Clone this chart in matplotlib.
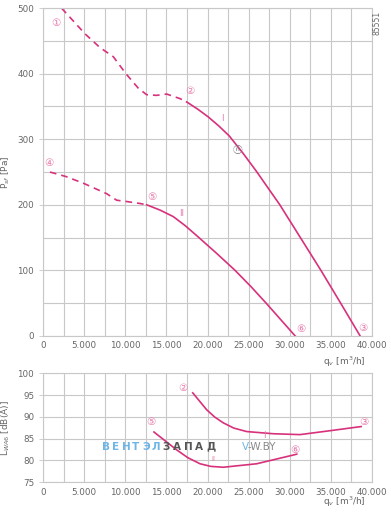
import numpy as np
import matplotlib.pyplot as plt

# pressure curves (top)
q_I_dash = [2240, 5080, 6900, 8530, 10070, 11570, 12590, 13800, 15030, 16650, 17460]
p_I_dash = [500, 461, 440, 426, 400, 378, 368, 367, 369, 362, 357]
q_I = [17460, 18800, 20100, 21400, 22650, 24300, 25900, 28800, 31300, 33800, 36200, 38570]
p_I = [357, 346, 334, 320, 305, 279, 252, 200, 150, 100, 50, 0]

q_II_dash = [820, 2800, 4870, 7720, 8940, 10160, 11780, 12590]
p_II_dash = [250, 243, 233, 217, 207, 205, 202, 200]
q_II = [12590, 14210, 15830, 17300, 18950, 21100, 23350, 25300, 27130, 30660]
p_II = [200, 192, 182, 168, 150, 126, 100, 75, 50, 0]

# sound power curves (bottom)
qs_I = [18200, 19900, 20900, 21920, 23200, 24770, 28010, 31260, 34920, 38700]
L_I = [95.5, 91.6, 89.9, 88.6, 87.4, 86.6, 86.1, 85.9, 86.8, 87.75]
qs_II = [13480, 16240, 17600, 19090, 20400, 21920, 25980, 30860]
L_II = [86.5, 82.4, 80.6, 79.2, 78.6, 78.4, 79.2, 81.4]

xticks = [0, 5000, 10000, 15000, 20000, 25000, 30000, 35000, 40000]
xticklabels = ['0', '5.000', '10.000', '15.000', '20.000', '25.000', '30.000', '35.000', '40.000']

line_c = '#d8317c'
lab_c = '#e77aab'
grid_c = '#c8c8c8'
txt_c = '#666666'

fig = plt.figure(figsize=(3.91, 5.12), dpi=100)
ax1 = fig.add_axes([0.1105, 0.344, 0.8405, 0.640])
ax2 = fig.add_axes([0.1105, 0.0585, 0.8405, 0.2125])

def style(ax, ymin, ymax, ystep, yminor):
	ax.set_xlim(0, 40000)
	ax.set_ylim(ymin, ymax)
	ax.set_xticks(xticks)
	ax.set_xticklabels(xticklabels)
	ax.set_xticks(np.arange(0, 40001, 2500), minor=True)
	ax.set_yticks(np.arange(ymin, ymax + 1, ystep))
	ax.set_yticks(np.arange(ymin, ymax + 1, yminor), minor=True)
	ax.grid(True, which='both', color=grid_c, linewidth=0.8)
	ax.set_axisbelow(True)
	ax.tick_params(which='both', labelsize=6.3, colors=txt_c, length=3, width=0.6, color=grid_c)
	ax.tick_params(which='minor', length=0)
	ax.tick_params(axis='x', length=0, pad=4)
	for s in ax.spines.values():
		s.set_color(grid_c)
		s.set_linewidth(0.8)

style(ax1, 0, 500, 100, 50)
style(ax2, 75, 100, 5, 5)

ax1.plot(q_I_dash, p_I_dash, color=line_c, lw=1.2, ls=(0, (4, 3)))
ax1.plot(q_I, p_I, color=line_c, lw=1.2)
ax1.plot(q_II_dash, p_II_dash, color=line_c, lw=1.2, ls=(0, (4, 3)))
ax1.plot(q_II, p_II, color=line_c, lw=1.2)

ax2.plot(qs_I, L_I, color=line_c, lw=1.2)
ax2.plot(qs_II, L_II, color=line_c, lw=1.2)

def circ(ax, x, y, s, c=lab_c):
	ax.text(x, y, s, color=c, fontsize=7.5, ha='center', va='center',
		family=['DejaVu Sans', 'Noto Sans CJK JP'])

circ(ax1, 1550, 478, '①')
circ(ax1, 17800, 373, '②')
circ(ax1, 38900, 12, '③')
circ(ax1, 700, 264, '④')
circ(ax1, 13200, 212, '⑤')
circ(ax1, 31400, 10, '⑥')
ax1.text(23600, 284, 'ⓝ', color='#777777', fontsize=7, ha='center', va='center',
	family=['Noto Sans CJK JP', 'DejaVu Sans'])
ax1.text(21800, 332, 'I', color=lab_c, fontsize=6, ha='center', va='center')
ax1.text(16800, 187, 'II', color=lab_c, fontsize=6, ha='center', va='center')

circ(ax2, 17000, 96.6, '②')
circ(ax2, 13100, 88.9, '⑤')
circ(ax2, 39000, 88.9, '③')
circ(ax2, 30600, 82.3, '⑥')
ax2.text(26900, 85.7, 'I', color=lab_c, fontsize=6, ha='center', va='center')
ax2.text(20700, 80.2, 'II', color=lab_c, fontsize=5, ha='center', va='center')

ax1.set_ylabel(r'P$_{sf}$ [Pa]', fontsize=6.5, color=txt_c, labelpad=4)
ax2.set_ylabel(r'L$_{WA6}$ [dB(A)]', fontsize=6.5, color=txt_c, labelpad=4)
fig.text(0.882, 0.294, r'q$_v$ [m$^3$/h]', fontsize=6.5, color=txt_c, ha='center', va='center')
fig.text(0.882, 0.019, r'q$_v$ [m$^3$/h]', fontsize=6.5, color=txt_c, ha='center', va='center')
fig.text(0.963, 0.955, '85551', fontsize=5.5, color=txt_c, rotation=90, ha='center', va='center')

# watermark, letter by letter for the wide spacing
wm_y = 0.1275
for i, ch in enumerate('ВЕНТЭЛ'):
	fig.text((102 + 10 * i) / 391, wm_y, ch, fontsize=7.5, color='#6db5e6', ha='left', va='center', fontweight='bold')
for i, ch in enumerate('ЗАПАД'):
	fig.text((162 + 11 * i) / 391, wm_y, ch, fontsize=7.5, color='#555555', ha='left', va='center', fontweight='bold')
fig.text(0.618, wm_y, 'V', fontsize=7.5, color='#6db5e6', ha='left', va='center')
fig.text(0.633, wm_y, '-W.BY', fontsize=7.5, color='#888888', ha='left', va='center')

fig.savefig('out.png', dpi=100)
